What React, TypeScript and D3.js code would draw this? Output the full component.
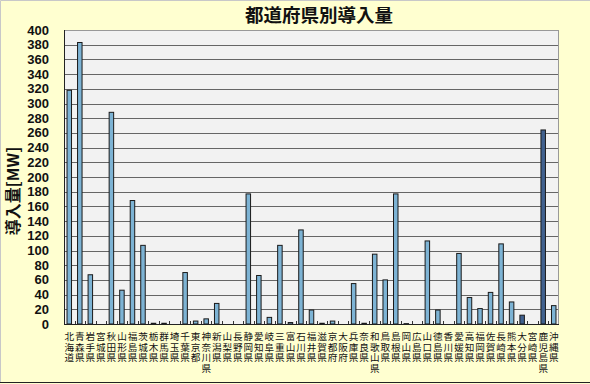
import * as d3 from 'd3';

const prefectures = [
  '北海道', '青森県', '岩手県', '宮城県', '秋田県', '山形県', '福島県', '茨城県',
  '栃木県', '群馬県', '埼玉県', '千葉県', '東京都', '神奈川県', '新潟県', '山梨県',
  '長野県', '静岡県', '愛知県', '岐阜県', '三重県', '富山県', '石川県', '福井県',
  '滋賀県', '京都府', '大阪府', '兵庫県', '奈良県', '和歌山県', '鳥取県', '島根県',
  '岡山県', '広島県', '山口県', '徳島県', '香川県', '愛媛県', '高知県', '福岡県',
  '佐賀県', '長崎県', '熊本県', '大分県', '宮崎県', '鹿児島県', '沖縄県',
];

// MW
const capacity = [
  318, 383, 67, 0, 288, 46, 168, 107,
  1, 1, 0, 70, 4, 7, 28, 0,
  0, 177, 66, 9, 107, 2, 128, 19,
  1, 4, 0, 55, 1, 95, 60, 177,
  0.5, 0, 113, 19, 0, 96, 36, 21,
  43, 109, 30, 12, 0, 264, 25,
];

// bars drawn in the darker colour
const highlighted = ['大分県', '鹿児島県'];

const yTicks = d3.range(0, 401, 20);

const W = 590;
const H = 384;
const margin = { top: 30, right: 31, bottom: 60, left: 64 };
const innerW = W - margin.left - margin.right;
const innerH = H - margin.top - margin.bottom;

export default function App() {
  const x = d3.scaleBand().domain(prefectures).range([0, innerW]);
  const y = d3.scaleLinear().domain([0, 400]).range([innerH, 0]);
  const barW = 4.5;
  const cjk = '"Noto Sans CJK JP", "Noto Sans", sans-serif';

  return (
    <svg
      width={W}
      height={H}
      style={{ position: 'absolute', left: 0, top: 0, display: 'block' }}
    >
      <rect x={0} y={0} width={W} height={H} fill="#FFFFD0" />
      {/* chart frame */}
      <line x1={0.5} y1={0.5} x2={W} y2={0.5} stroke="#c8c8c8" />
      <line x1={0.5} y1={0.5} x2={0.5} y2={382} stroke="#c8c8c8" />
      <line x1={0} y1={382.5} x2={W} y2={382.5} stroke="#222" />

      <text
        x={319}
        y={22}
        textAnchor="middle"
        fontFamily={cjk}
        fontWeight="bold"
        fontSize={18.5}
        fill="#111"
      >
        都道府県別導入量
      </text>

      <g transform={`translate(${margin.left},${margin.top})`}>
        <rect x={0} y={0} width={innerW} height={innerH} fill="#F2F2F2" />
        {yTicks.slice(1).map((t) => (
          <line
            key={t}
            x1={0}
            x2={innerW}
            y1={Math.round(y(t)) + 0.5}
            y2={Math.round(y(t)) + 0.5}
            stroke={t === 400 ? '#999' : '#666'}
            strokeWidth={1}
          />
        ))}
        <line x1={innerW - 0.5} x2={innerW - 0.5} y1={0} y2={innerH} stroke="#999" />

        {prefectures.map((p, i) => {
          const v = capacity[i];
          if (v <= 0) return null;
          const cx = x(p)! + x.bandwidth() / 2;
          return (
            <rect
              key={p}
              x={cx - barW / 2}
              y={y(v)}
              width={barW}
              height={innerH - y(v)}
              fill={highlighted.includes(p) ? '#41618F' : '#7DB3D4'}
              stroke="#1a1a1a"
              strokeWidth={1}
            />
          );
        })}

        {/* x tick marks between categories */}
        {prefectures.slice(1).map((p) => (
          <line
            key={p}
            x1={Math.round(x(p)!) + 0.5}
            x2={Math.round(x(p)!) + 0.5}
            y1={innerH}
            y2={innerH - 3}
            stroke="#333"
          />
        ))}
        <line x1={0.5} x2={0.5} y1={0} y2={innerH} stroke="#222" />
        <line x1={0} x2={innerW} y1={innerH + 0.5} y2={innerH + 0.5} stroke="#222" />

        {yTicks.map((t) => (
          <text
            key={t}
            x={-15}
            y={y(t)}
            dy="0.35em"
            textAnchor="end"
            fontFamily="'Liberation Sans', Arial, sans-serif"
            fontWeight="bold"
            fontSize={13}
            fill="#111"
          >
            {t}
          </text>
        ))}

        {/* one text per character so each glyph box stays inside its column */}
        {prefectures.map((p) => {
          const cx = x(p)! + x.bandwidth() / 2;
          return (
            <g key={p}>
              {Array.from(p).map((ch, k) => (
                <text
                  key={k}
                  x={cx}
                  y={innerH + 16 + k * 10.7}
                  textAnchor="middle"
                  fontFamily={cjk}
                  fontSize={9.6}
                  fill="#111"
                >
                  {ch}
                </text>
              ))}
            </g>
          );
        })}
      </g>

      <text
        transform="translate(19,191) rotate(-90)"
        textAnchor="middle"
        fontFamily={cjk}
        fontWeight="bold"
        fontSize={16}
        fill="#111"
      >
        導入量[MW]
      </text>
    </svg>
  );
}
